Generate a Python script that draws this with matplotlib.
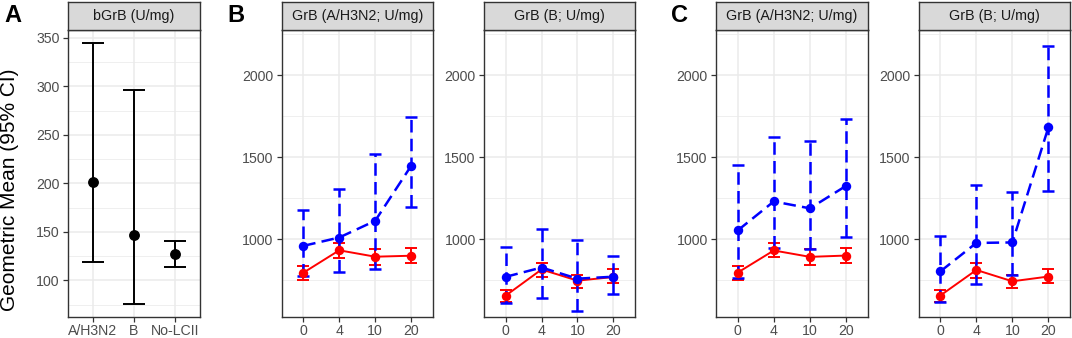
import matplotlib
matplotlib.use("Agg")
import matplotlib.pyplot as plt
from matplotlib.ticker import MultipleLocator, FixedLocator
import numpy as np

plt.rcParams['font.family'] = ['Liberation Sans', 'DejaVu Sans']

# ---------------- data ----------------
a_groups = ["A/H3N2", "B", "No-LCII"]
a_mean = [201, 147, 127]
a_lo = [119, 76, 114]
a_hi = [345, 296, 141]

days = ["0", "4", "10", "20"]

# Panel B, GrB (A/H3N2)
b_h3_blue_mean = [959, 1010, 1112, 1447]
b_h3_blue_lo = [777, 797, 815, 1199]
b_h3_blue_hi = [1176, 1304, 1518, 1748]
b_h3_red_mean = [795, 932, 893, 899]
b_h3_red_lo = [750, 888, 842, 855]
b_h3_red_hi = [837, 977, 941, 946]

# Panel B, GrB (B)
b_b_blue_mean = [770, 827, 759, 771]
b_b_blue_lo = [613, 642, 560, 663]
b_b_blue_hi = [951, 1060, 992, 897]
b_b_red_mean = [655, 815, 747, 769]
b_b_red_lo = [615, 771, 704, 730]
b_b_red_hi = [690, 852, 783, 818]

# Panel C, GrB (A/H3N2)
c_h3_blue_mean = [1053, 1230, 1188, 1325]
c_h3_blue_lo = [765, 945, 942, 1015]
c_h3_blue_hi = [1450, 1624, 1599, 1736]
c_h3_red_mean = [796, 931, 892, 900]
c_h3_red_lo = [752, 890, 845, 857]
c_h3_red_hi = [837, 975, 939, 947]

# Panel C, GrB (B)
c_b_blue_mean = [803, 977, 980, 1682]
c_b_blue_lo = [619, 726, 783, 1294]
c_b_blue_hi = [1019, 1330, 1285, 2180]
c_b_red_mean = [656, 812, 743, 772]
c_b_red_lo = [618, 765, 702, 731]
c_b_red_hi = [689, 852, 782, 819]

# ---------------- layout ----------------
W, H = 1072, 338
fig = plt.figure(figsize=(W / 100, H / 100), dpi=100)
fig.patch.set_facecolor('white')

PANEL_TOP, PANEL_BOT = 29.5, 316.7
STRIP_TOP = 2.0


def px_axes(x0, x1, y0, y1):
    return fig.add_axes([x0 / W, 1 - y1 / H, (x1 - x0) / W, (y1 - y0) / H])


def style(ax):
    ax.set_facecolor('white')
    for s in ax.spines.values():
        s.set_color('#333333')
        s.set_linewidth(1.0)
    ax.grid(True, which='major', color='#EBEBEB', lw=1.1)
    ax.grid(True, which='minor', axis='y', color='#EBEBEB', lw=0.55)
    ax.set_axisbelow(True)
    ax.tick_params(which='major', length=3.5, width=0.9, color='#333333',
                   labelcolor='#4D4D4D', labelsize=10.2, pad=2.5)
    ax.tick_params(axis='x', which='major', pad=1.5)
    ax.tick_params(which='minor', length=0)


def strip(x0, x1, label):
    sax = px_axes(x0, x1, STRIP_TOP, PANEL_TOP)
    sax.set_facecolor('#D9D9D9')
    sax.set_xticks([])
    sax.set_yticks([])
    for s in sax.spines.values():
        s.set_color('#333333')
        s.set_linewidth(1.0)
    sax.text(0.5, 0.5, label, ha='center', va='center', fontsize=10.3,
             color='#1A1A1A', transform=sax.transAxes)


def series(ax, mean, lo, hi, color, dashed, lw):
    x = np.arange(len(mean))
    mean = np.asarray(mean, float)
    lo = np.asarray(lo, float)
    hi = np.asarray(hi, float)
    ls = (0, (5, 2.5)) if dashed else '-'
    eb = ax.errorbar(x, mean, yerr=[mean - lo, hi - mean], fmt='none',
                     ecolor=color, elinewidth=lw, capsize=4.2, capthick=lw, zorder=3)
    if dashed:
        for lc in eb[2]:
            lc.set_linestyle(ls)
    ax.plot(x, mean, color=color, ls=ls, lw=lw, marker='o', ms=6.8,
            markeredgewidth=0, zorder=4)


# Panel A
axA = px_axes(68, 200, PANEL_TOP, PANEL_BOT)
style(axA)
xa = np.arange(len(a_groups))
am = np.asarray(a_mean, float)
axA.errorbar(xa, am, yerr=[am - np.asarray(a_lo), np.asarray(a_hi) - am], fmt='o',
             color='black', ms=6.8, elinewidth=1.4, capsize=8, capthick=1.4, zorder=3)
axA.set_xlim(-0.6, len(a_groups) - 0.4)
axA.set_ylim(62.5, 358.5)
axA.set_xticks(xa)
axA.set_xticklabels(a_groups)
axA.yaxis.set_major_locator(FixedLocator([100, 150, 200, 250, 300, 350]))
axA.yaxis.set_minor_locator(MultipleLocator(25))
strip(68, 200, "bGrB (U/mg)")

panels = [
    (281.7, 432.7, "GrB (A/H3N2; U/mg)",
     (b_h3_red_mean, b_h3_red_lo, b_h3_red_hi), (b_h3_blue_mean, b_h3_blue_lo, b_h3_blue_hi)),
    (484, 635, "GrB (B; U/mg)",
     (b_b_red_mean, b_b_red_lo, b_b_red_hi), (b_b_blue_mean, b_b_blue_lo, b_b_blue_hi)),
    (716, 867.7, "GrB (A/H3N2; U/mg)",
     (c_h3_red_mean, c_h3_red_lo, c_h3_red_hi), (c_h3_blue_mean, c_h3_blue_lo, c_h3_blue_hi)),
    (918.7, 1070, "GrB (B; U/mg)",
     (c_b_red_mean, c_b_red_lo, c_b_red_hi), (c_b_blue_mean, c_b_blue_lo, c_b_blue_hi)),
]

for x0, x1, label, red, blue in panels:
    ax = px_axes(x0, x1, PANEL_TOP, PANEL_BOT)
    style(ax)
    series(ax, *red, color='red', dashed=False, lw=1.4)
    series(ax, *blue, color='blue', dashed=True, lw=1.8)
    ax.set_xlim(-0.6, len(days) - 0.4)
    ax.set_ylim(527, 2279)
    ax.set_xticks(np.arange(len(days)))
    ax.set_xticklabels(days)
    ax.yaxis.set_major_locator(FixedLocator([1000, 1500, 2000]))
    ax.yaxis.set_minor_locator(MultipleLocator(250))
    strip(x0, x1, label)

# y label and panel letters
fig.text(10 / W, 1 - 190 / H, "Geometric Mean (95% CI)", rotation=90,
         ha='center', va='center', fontsize=15, color='black')
for lx, letter in [(4, "A"), (227, "B"), (671, "C")]:
    fig.text(lx / W, 1 - 4 / H, letter, ha='left', va='top', fontsize=17,
             fontweight='bold', color='black')

fig.savefig("out.png", dpi=100, facecolor='white')
